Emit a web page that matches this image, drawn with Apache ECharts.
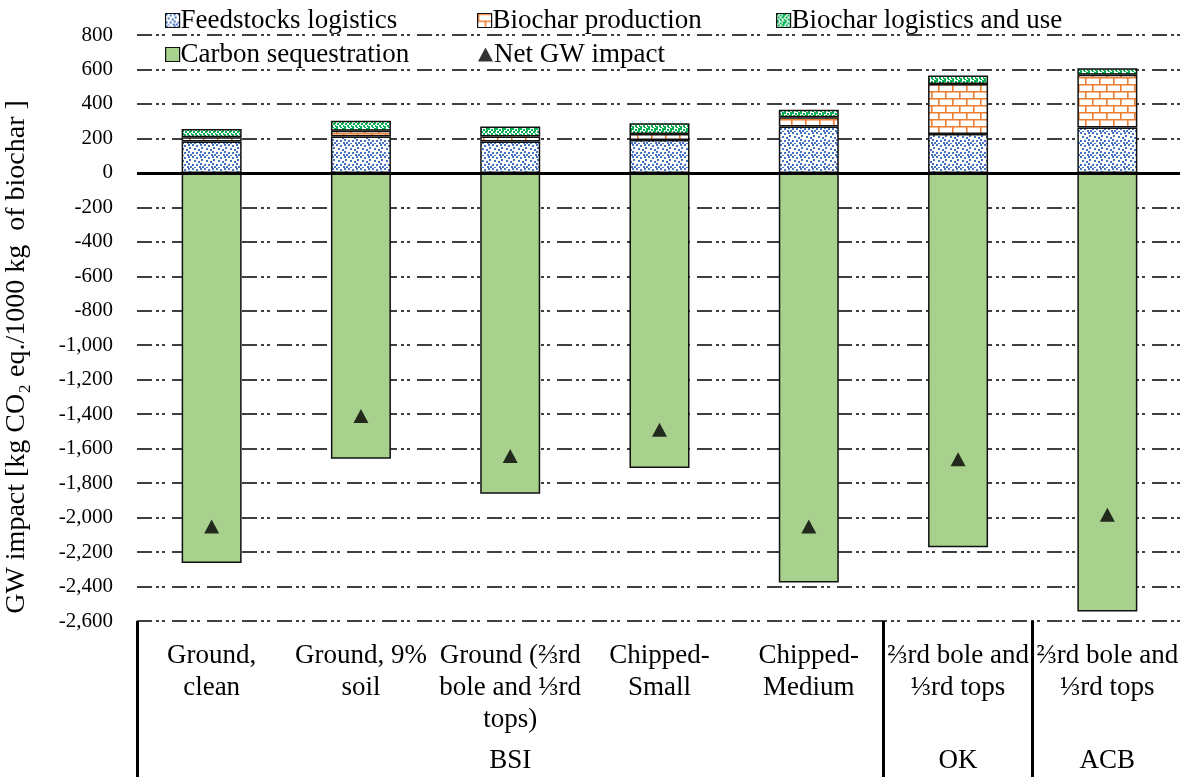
<!DOCTYPE html>
<html>
<head>
<meta charset="utf-8">
<script src="https://cdn.jsdelivr.net/npm/echarts@6/dist/echarts.min.js"></script>
<style>
  html, body { margin: 0; padding: 0; background: #fff; }
  #chart { width: 1180px; height: 777px; }
</style>
</head>
<body>
<div id="chart"></div>
<script>
// categories and groups (table under the plot)
const categories = [
  'Ground,\nclean',
  'Ground, 9%\nsoil',
  'Ground (⅔rd\nbole and ⅓rd\ntops)',
  'Chipped-\nSmall',
  'Chipped-\nMedium',
  '⅔rd bole and\n⅓rd tops',
  '⅔rd bole and\n⅓rd tops'
];
const groups = ['BSI', 'BSI', 'BSI', 'BSI', 'BSI', 'OK', 'ACB'];

// kg CO2 eq. / 1000 kg biochar
const feedstocks = [182, 211, 182, 191, 269, 226, 263];
const production = [25, 33, 29, 35, 54, 289, 306];
const logistics = [48, 59, 58, 62, 43, 50, 38];
const sequestration = [-2263, -1659, -1862, -1712, -2376, -2172, -2545];
const netImpact = [-2052, -1410, -1642, -1491, -2052, -1661, -1984];

// y ticks
const yMin = -2600;
const yMax = 800;
const yStep = 200;

const FONT = 'Liberation Serif';
const BLUE = '#4472C4';
const ORANGE = '#ED7D31';
const GREEN = '#00B050';
const LIGHT_GREEN = '#A9D18E';

// group start indexes -> vertical lines in the table
const groupStarts = groups.map((g, i) => (i === 0 || groups[i - 1] !== g) ? i : -1).filter(i => i >= 0);
// label each group at the middle of its run
const groupLabels = groups.map((g, i) => {
  let s = i, e = i;
  while (s > 0 && groups[s - 1] === g) s--;
  while (e < groups.length - 1 && groups[e + 1] === g) e++;
  return i === Math.floor((s + e) / 2) ? g : '';
});

function tile(w, h, draw) {
  const c = document.createElement('canvas');
  c.width = w;
  c.height = h;
  const g = c.getContext('2d');
  g.fillStyle = '#fff';
  g.fillRect(0, 0, w, h);
  draw(g);
  return { image: c, repeat: 'repeat' };
}

function confetti(color, pts, size) {
  return tile(size, size, g => {
    g.fillStyle = color;
    pts.forEach(p => g.fillRect(p[0], p[1], 2, 2));
  });
}

const bluePattern = confetti(BLUE, [[0, 0], [4, 1], [8, 0], [2, 4], [6, 5], [9, 3], [0, 8], [4, 8], [8, 7], [7, 10], [2, 11], [10, 10]], 12);
const greenPattern = confetti(GREEN, [[0, 0], [3, 1], [6, 0], [1, 3], [5, 3], [7, 5], [0, 6], [3, 5], [4, 7], [6, 2]], 8);
const brickPattern = tile(14, 14, g => {
  g.strokeStyle = ORANGE;
  g.lineWidth = 1.6;
  g.beginPath();
  g.moveTo(0, 0.8); g.lineTo(14, 0.8);
  g.moveTo(0, 7.8); g.lineTo(14, 7.8);
  g.moveTo(0.8, 0); g.lineTo(0.8, 7.8);
  g.moveTo(7.8, 7.8); g.lineTo(7.8, 14);
  g.stroke();
});

const border = { borderColor: '#111', borderWidth: 1.5 };

function barSeries(name, data, color) {
  return {
    name: name,
    type: 'bar',
    stack: 'total',
    barWidth: 60,
    data: data,
    itemStyle: Object.assign({ color: color }, border)
  };
}

const series = [
  barSeries('Feedstocks logistics', feedstocks, bluePattern),
  barSeries('Biochar production', production, brickPattern),
  barSeries('Biochar logistics and use', logistics, greenPattern),
  Object.assign(barSeries('Carbon sequestration', sequestration, LIGHT_GREEN), {
    markLine: {
      silent: true,
      symbol: 'none',
      label: { show: false },
      lineStyle: { color: '#000', width: 3, type: 'solid' },
      data: [{ yAxis: 0 }]
    }
  }),
  {
    name: 'Net GW impact',
    type: 'scatter',
    symbol: 'triangle',
    symbolSize: [15, 14],
    data: netImpact,
    itemStyle: { color: '#000' },
    z: 5
  }
];

// one legend per item so the columns line up like the original
const legendSlots = [
  ['Feedstocks logistics', 160, 2],
  ['Biochar production', 472, 2],
  ['Biochar logistics and use', 771, 2],
  ['Carbon sequestration', 160, 36],
  ['Net GW impact', 473, 36]
];
const legends = legendSlots.map(s => {
  const isNet = s[0] === 'Net GW impact';
  return {
    data: [s[0]],
    left: s[1],
    top: s[2],
    icon: isNet ? 'triangle' : 'rect',
    itemWidth: isNet ? 15 : 14,
    itemHeight: 14,
    selectedMode: false,
    textStyle: { fontFamily: FONT, fontSize: 27, color: '#000', padding: [0, 0, 0, -4] },
    itemStyle: isNet ? { borderWidth: 0 } : { borderColor: '#111', borderWidth: 1.2 }
  };
});

const chart = echarts.init(document.getElementById('chart'), null, { renderer: 'canvas' });

chart.setOption({
  animation: false,
  backgroundColor: '#fff',
  textStyle: { fontFamily: FONT },
  legend: legends,
  grid: { left: 137, right: -2, top: 35, bottom: 156, containLabel: false, outerBoundsMode: 'none' },
  xAxis: [
    {
      type: 'category',
      data: categories,
      position: 'bottom',
      axisLine: { show: false, onZero: false },
      axisTick: {
        show: true,
        length: 160,
        interval: i => groupStarts.indexOf(i) >= 0,
        lineStyle: { color: '#000', width: 3 }
      },
      axisLabel: {
        interval: 0,
        margin: 19,
        fontFamily: FONT,
        fontSize: 27,
        lineHeight: 32,
        color: '#000'
      },
      splitLine: { show: false }
    },
    {
      type: 'category',
      data: categories,
      position: 'bottom',
      axisLine: { show: false, onZero: false },
      axisTick: { show: false },
      axisLabel: {
        interval: 0,
        margin: 126,
        fontFamily: FONT,
        fontSize: 27,
        color: '#000',
        formatter: (v, i) => groupLabels[i]
      },
      splitLine: { show: false }
    }
  ],
  yAxis: {
    type: 'value',
    min: yMin,
    max: yMax,
    interval: yStep,
    axisLine: { show: false },
    axisTick: { show: false },
    axisLabel: {
      margin: 24,
      fontFamily: FONT,
      fontSize: 21,
      color: '#000',
      formatter: v => v.toLocaleString('en-US')
    },
    splitLine: {
      lineStyle: { color: '#000', width: 1.6, type: [15, 4, 3, 3, 3, 7] }
    },
    name: 'GW impact [kg CO₂ eq./1000 kg  of biochar ]',
    nameLocation: 'middle',
    nameGap: 106,
    nameTextStyle: {
      fontFamily: FONT,
      fontSize: 28,
      color: '#000',
      padding: [0, 58, 0, 0]
    }
  },
  series: series
});
</script>
</body>
</html>
